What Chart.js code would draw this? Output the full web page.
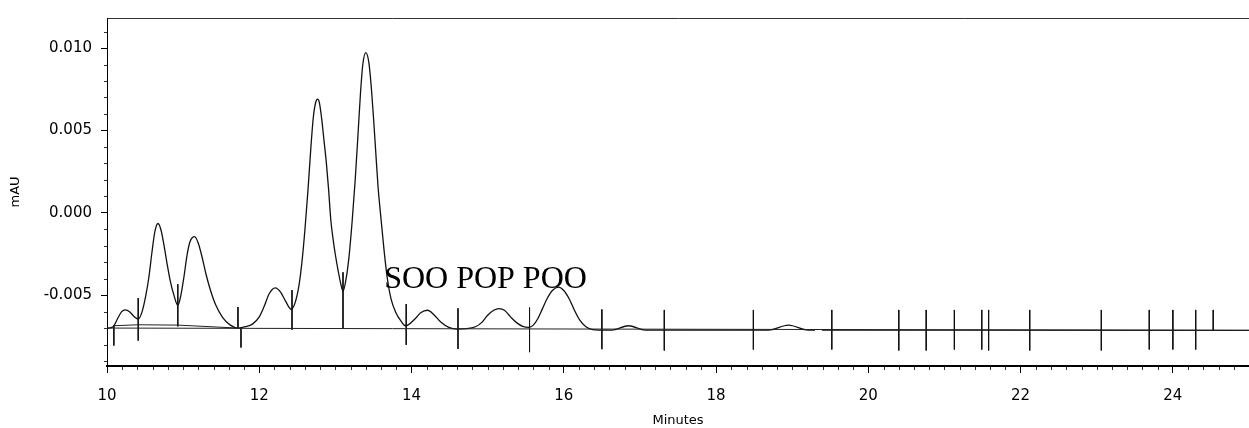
<!DOCTYPE html>
<html>
<head>
<meta charset="utf-8">
<script src="https://cdn.jsdelivr.net/npm/chart.js@4"></script>
<style>
  body { margin: 0; background: #fff; }
  canvas { display: block; }
</style>
</head>
<body>
<canvas id="myChart" width="1249" height="428"></canvas>
<script>
'use strict';

//********************* Data ***************************************************/

// detector trace, minutes vs mAU (null = small gap in the recorded trace)
let traceTimes = [10.00, 10.08, 10.14, 10.19, 10.24, 10.30, 10.36, 10.41, 10.46, 10.51,
  10.55, 10.59, 10.63, 10.67, 10.71, 10.75, 10.79, 10.83, 10.88, 10.93,
  10.97, 11.01, 11.05, 11.09, 11.15, 11.20, 11.25, 11.30, 11.36, 11.43,
  11.52, 11.62, 11.72, 11.82, 11.91, 12.00, 12.07, 12.13, 12.21, 12.28,
  12.34, 12.42, 12.47, 12.52, 12.56, 12.60, 12.64, 12.68, 12.71, 12.74,
  12.765, 12.79, 12.82, 12.85, 12.88, 12.91, 12.94, 12.97, 13.00, 13.04,
  13.07, 13.10, 13.14, 13.18, 13.22, 13.26, 13.30, 13.33, 13.36, 13.40,
  13.44, 13.47, 13.50, 13.53, 13.56, 13.60, 13.64, 13.68, 13.73, 13.79,
  13.86, 13.92, 14.05, 14.12, 14.21, 14.30, 14.38, 14.49, 14.60, 14.72,
  14.84, 14.92, 15.00, 15.08, 15.15, 15.22, 15.30, 15.38, 15.46, 15.54,
  15.60, 15.66, 15.72, 15.78, 15.85, 15.93, 16.00, 16.07, 16.14, 16.21,
  16.29, 16.38, 16.46, 16.63, 16.85, 17.07, 18.69, 18.95, 19.21, 19.30,
  19.34, 19.39, 25.00];
let traceValues = [-0.00700, -0.00690, -0.00640, -0.00600, -0.00588, -0.00600, -0.00630, -0.00644, -0.00600, -0.00500,
  -0.00390, -0.00240, -0.00110, -0.00064, -0.00105, -0.00200, -0.00310, -0.00410, -0.00500, -0.00560,
  -0.00500, -0.00390, -0.00260, -0.00175, -0.00144, -0.00185, -0.00270, -0.00370, -0.00470, -0.00560,
  -0.00634, -0.00680, -0.00698, -0.00690, -0.00674, -0.00630, -0.00560, -0.00490, -0.00454, -0.00480,
  -0.00530, -0.00584, -0.00545, -0.00444, -0.00300, -0.00100, 0.00140, 0.00410, 0.00580, 0.00668,
  0.00690, 0.00668, 0.00570, 0.00440, 0.00310, 0.00146, -0.00044, -0.00160, -0.00255, -0.00360,
  -0.00428, -0.00474, -0.00400, -0.00260, -0.00050, 0.00200, 0.00500, 0.00730, 0.00900, 0.00972,
  0.00910, 0.00770, 0.00580, 0.00370, 0.00160, -0.00040, -0.00230, -0.00390, -0.00520, -0.00600,
  -0.00655, -0.00684, -0.00640, -0.00605, -0.00590, -0.00620, -0.00660, -0.00694, -0.00704, -0.00702,
  -0.00690, -0.00665, -0.00620, -0.00590, -0.00580, -0.00590, -0.00630, -0.00665, -0.00688, -0.00694,
  -0.00680, -0.00640, -0.00580, -0.00520, -0.00470, -0.00450, -0.00470, -0.00520, -0.00590, -0.00650,
  -0.00690, -0.00708, -0.00710, -0.00710, -0.00684, -0.00710, -0.00710, -0.00680, -0.00710, -0.00710,
  null, -0.00710, -0.00712];

// long drawn baseline and the short integration baseline at the start
let baseTimes = [10.0, 25.0];
let baseValues = [-0.00698, -0.00712];
let integTimes = [10.08, 10.41, 10.93, 11.72];
let integValues = [-0.00684, -0.00678, -0.00680, -0.00698];

// peak start / end markers (vertical strokes)
let markerTimes = [10.09, 10.41, 10.93, 11.72, 11.76, 12.43, 13.10, 13.93, 14.61, 15.55,
  16.50, 17.32, 18.49, 19.52, 20.40, 20.76, 21.13, 21.49, 21.58, 22.12,
  23.06, 23.69, 24.00, 24.30, 24.53];
let markerTops = [-0.00680, -0.00516, -0.00432, -0.00570, -0.00696, -0.00468, -0.00360, -0.00552, -0.00578, -0.00574,
  -0.00585, -0.00588, -0.00588, -0.00588, -0.00588, -0.00588, -0.00588, -0.00588, -0.00588, -0.00588,
  -0.00588, -0.00588, -0.00588, -0.00588, -0.00588];
let markerBottoms = [-0.00804, -0.00774, -0.00688, -0.00696, -0.00816, -0.00708, -0.00702, -0.00800, -0.00824, -0.00844,
  -0.00826, -0.00834, -0.00828, -0.00828, -0.00834, -0.00834, -0.00828, -0.00828, -0.00834, -0.00834,
  -0.00834, -0.00828, -0.00828, -0.00828, -0.00710];

// axis ranges and labels
let xMin = 10, xMax = 25;
let yMin = -0.00928, yMax = 0.01182;
let annoText = 'SOO POP POO';
let annoX = 13.64, annoY = -0.00456;

//********************** Build datasets ****************************/

function toPoints(xs, ys) {
  let pts = [];
  for (let i = 0; i < xs.length; i++) {
    pts.push({ x: xs[i], y: ys[i] });
  }
  return pts;
}

function markerPoints() {
  let pts = [];
  for (let i = 0; i < markerTimes.length; i++) {
    pts.push({ x: markerTimes[i], y: markerTops[i] });
    pts.push({ x: markerTimes[i], y: markerBottoms[i] });
    pts.push({ x: markerTimes[i], y: null });
  }
  return pts;
}

//********************** Extra drawing: minor ticks + label *********************/

const extras = {
  id: 'extras',
  afterDraw(chart) {
    const { ctx, scales: { x, y } } = chart;
    ctx.save();
    ctx.strokeStyle = '#333';
    ctx.lineWidth = 1;
    ctx.beginPath();
    for (let i = 1; i < 75; i++) {
      if (i % 10 === 0) continue;
      let px = Math.round(x.getPixelForValue(xMin + i * 0.2)) + 0.5;
      ctx.moveTo(px, y.bottom + 1);
      ctx.lineTo(px, y.bottom + 4);
    }
    for (let k = -9; k <= 11; k++) {
      if (k % 5 === 0) continue;
      let py = Math.round(y.getPixelForValue(k / 1000)) + 0.5;
      ctx.moveTo(x.left - 3, py);
      ctx.lineTo(x.left, py);
    }
    ctx.stroke();

    ctx.fillStyle = '#000';
    ctx.font = '32px "Liberation Serif"';
    ctx.textBaseline = 'alphabetic';
    ctx.textAlign = 'left';
    ctx.fillText(annoText, x.getPixelForValue(annoX), y.getPixelForValue(annoY));
    ctx.restore();
  }
};

//********************** Chart ****************************/

const ctx = document.getElementById('myChart').getContext('2d');
const tickFont = { family: 'DejaVu Sans', size: 15 };

const myChart = new Chart(ctx, {
  type: 'line',
  data: {
    datasets: [
      {
        data: toPoints(baseTimes, baseValues),
        borderColor: '#222',
        borderWidth: 1,
        pointRadius: 0
      },
      {
        data: toPoints(integTimes, integValues),
        borderColor: '#222',
        borderWidth: 1,
        pointRadius: 0
      },
      {
        data: markerPoints(),
        borderColor: '#111',
        borderWidth: 1,
        pointRadius: 0,
        spanGaps: false
      },
      {
        data: toPoints(traceTimes, traceValues),
        borderColor: '#111',
        borderWidth: 1.3,
        pointRadius: 0,
        cubicInterpolationMode: 'monotone',
        spanGaps: false
      }
    ]
  },
  options: {
    responsive: false,
    animation: false,
    layout: { padding: { top: 14, right: 0, bottom: 0, left: 0 } },
    plugins: {
      legend: { display: false },
      tooltip: { enabled: false }
    },
    scales: {
      x: {
        type: 'linear',
        min: xMin,
        max: xMax,
        ticks: {
          stepSize: 2,
          includeBounds: false,
          maxRotation: 0,
          color: '#000',
          font: tickFont,
          padding: 14,
          callback: (v) => v
        },
        grid: { drawOnChartArea: false, tickLength: 7, color: '#000' },
        border: { color: '#000', width: 2 },
        title: {
          display: true,
          text: 'Minutes',
          color: '#000',
          font: { family: 'DejaVu Sans', size: 13 },
          padding: { top: 0, bottom: 0 }
        },
        afterFit: (s) => { s.height = 62; }
      },
      xTop: {
        type: 'linear',
        position: 'top',
        min: xMin,
        max: xMax,
        ticks: { display: false },
        grid: { drawOnChartArea: false, drawTicks: false },
        border: { color: '#333', width: 1 },
        afterFit: (s) => { s.height = 0; }
      },
      y: {
        type: 'linear',
        min: yMin,
        max: yMax,
        ticks: {
          stepSize: 0.005,
          includeBounds: false,
          color: '#000',
          font: tickFont,
          padding: 9,
          callback: (v) => Number(v).toFixed(3)
        },
        grid: { drawOnChartArea: false, tickLength: 6, color: '#000' },
        border: { color: '#000', width: 1 },
        title: {
          display: true,
          text: 'mAU',
          color: '#000',
          font: { family: 'DejaVu Sans', size: 13 },
          padding: { top: 8, bottom: 0 }
        },
        afterFit: (s) => { s.width = 107; }
      }
    }
  },
  plugins: [extras]
});
</script>
</body>
</html>
